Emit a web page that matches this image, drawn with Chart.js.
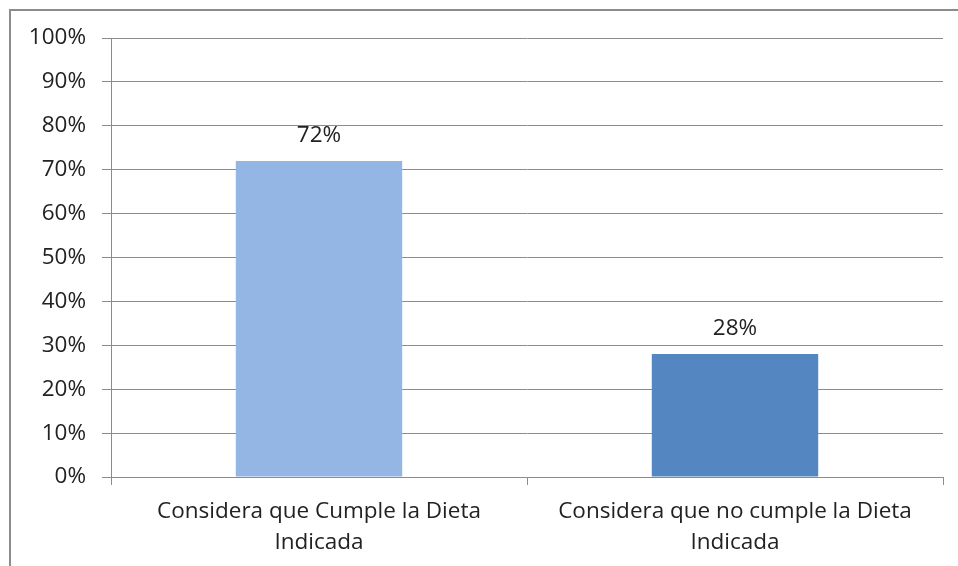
<!DOCTYPE html>
<html>
<head>
<meta charset="utf-8">
<script src="https://cdn.jsdelivr.net/npm/chart.js@4/dist/chart.umd.min.js"></script>
<style>
  html, body { margin: 0; padding: 0; background: #fff; overflow: hidden; }
  #wrap { position: relative; width: 958px; height: 566px; }
  #frame {
    position: absolute; left: 9px; top: 9px; width: 960px; height: 570px;
    border: 2px solid #8c8c8c; box-sizing: border-box;
  }
  canvas { position: absolute; left: 0; top: 0; }
</style>
</head>
<body>
<div id="wrap">
  <div id="frame"></div>
  <canvas id="dietChart" width="958" height="566"></canvas>
</div>
<script>
const categories = [
  ["Considera que Cumple la Dieta", "Indicada"],
  ["Considera que no cumple la Dieta", "Indicada"],
];
const percentages = [72, 28];
const barColors = ["#93b6e4", "#5487c1"];

const gridColor = "#8c8c8c";
const fontFamily = "'Open Sans', 'Noto Sans', sans-serif";
const fontSize = 22.5;

// draws "72%" etc. above each bar
const valueLabels = {
  id: "valueLabels",
  afterDatasetsDraw(chart) {
    const ctx = chart.ctx;
    const meta = chart.getDatasetMeta(0);
    ctx.save();
    ctx.font = fontSize + "px " + fontFamily;
    ctx.fillStyle = "#222";
    ctx.textAlign = "center";
    ctx.textBaseline = "middle";
    meta.data.forEach((bar, i) => {
      ctx.fillText(percentages[i] + "%", bar.x, bar.y - 25);
    });
    ctx.restore();
  },
};

const ctx = document.getElementById("dietChart").getContext("2d");
new Chart(ctx, {
  type: "bar",
  data: {
    labels: categories,
    datasets: [
      {
        data: percentages,
        backgroundColor: barColors,
        borderWidth: 0,
        barPercentage: 0.4,
        categoryPercentage: 1,
      },
    ],
  },
  options: {
    responsive: false,
    animation: false,
    layout: { padding: { top: 38, right: 15, left: 0, bottom: 0 } },
    plugins: {
      legend: { display: false },
      tooltip: { enabled: false },
    },
    scales: {
      y: {
        min: 0,
        max: 100,
        afterFit: (scale) => { scale.width = 111; },
        ticks: {
          stepSize: 10,
          padding: 16,
          color: "#222",
          font: { size: fontSize, family: fontFamily },
          callback: (v) => v + "%",
        },
        grid: { color: gridColor, tickLength: 9, lineWidth: 1 },
        border: { display: true, color: gridColor },
      },
      x: {
        afterFit: (scale) => { scale.height = 89; },
        ticks: {
          padding: 11,
          color: "#222",
          font: { size: fontSize, family: fontFamily, lineHeight: 1.38 },
          maxRotation: 0,
          autoSkip: false,
        },
        grid: {
          offset: true,
          drawOnChartArea: false,
          tickLength: 8,
          color: gridColor,
        },
        border: { display: true, color: gridColor },
      },
    },
  },
  plugins: [valueLabels],
});
</script>
</body>
</html>
